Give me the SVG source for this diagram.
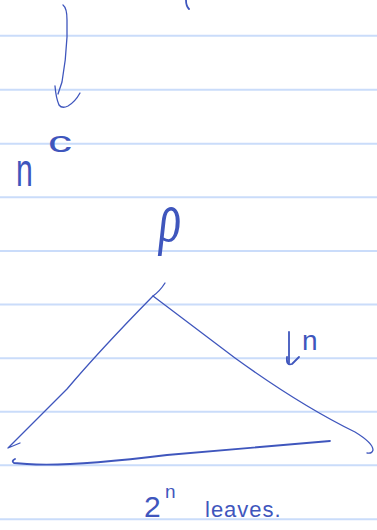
<svg xmlns="http://www.w3.org/2000/svg" width="377" height="530" viewBox="0 0 377 530">
<style>
.rule{stroke:#cadcfa;stroke-width:2;fill:none}
.ink{stroke:#3f56bd;stroke-width:1.8;fill:none;stroke-linecap:round;stroke-linejoin:round}
.thin{stroke-width:1.3}
.txt{fill:#3f56bd;font-family:"Liberation Sans",Arial,sans-serif}
</style>
<rect width="377" height="530" fill="#ffffff"/>
<g id="paper-lines">
<line class="rule" x1="0" y1="35.8" x2="377" y2="35.8"/>
<line class="rule" x1="0" y1="89.8" x2="377" y2="89.8"/>
<line class="rule" x1="0" y1="143.7" x2="377" y2="143.7"/>
<line class="rule" x1="0" y1="197.3" x2="377" y2="197.3"/>
<line class="rule" x1="0" y1="251" x2="377" y2="251"/>
<line class="rule" x1="0" y1="304.5" x2="377" y2="304.5"/>
<line class="rule" x1="0" y1="358.3" x2="377" y2="358.3"/>
<line class="rule" x1="0" y1="411.7" x2="377" y2="411.7"/>
<line class="rule" x1="0" y1="465.3" x2="377" y2="465.3"/>
<line class="rule" x1="0" y1="519.3" x2="377" y2="519.3"/>
</g>
<g id="connectors">
<path class="ink" d="M186,0 Q186,6 189,9"/>
<path class="ink thin" d="M63,5 Q67,8 67,20 L67,37 Q66,60 62,82 L58,94"/>
<path class="ink thin" d="M55,86 Q56,98 59,105 Q62,109 68,106 Q75,102 80,93"/>
<path class="ink" d="M289,332 L289,363"/>
<path class="ink" d="M287,357 Q286,366 292,364 L299,357"/>
</g>
<g id="label-n-left"><text class="txt" transform="translate(16,186) scale(0.72,1.1)" font-size="42">n</text></g>
<g id="label-c"><text class="txt" transform="translate(48,152) scale(1.5,0.9)" font-size="32">c</text></g>
<g id="label-rho"><text class="txt" style="font-family:'Liberation Serif','Times New Roman',serif;font-style:italic" transform="translate(159,241) scale(1,1.55)" font-size="46">ρ</text></g>
<g id="tree">
<path class="ink thin" d="M165,283 Q160,291 153,296 Q100,350 67,389 L8,448 L20,443"/>
<path class="ink thin" d="M153,296 L235,358 Q300,405 355,432 Q373,443 373,450 Q372,454 367,453"/>
<path class="ink" d="M15,459 Q11,461 14,463 L27,464 Q70,467 167,455 L330,441"/>
</g>
<g id="label-depth"><text class="txt" x="302" y="350" font-size="28">n</text></g>
<g id="label-leaves">
<text class="txt" x="144" y="517" font-size="30">2</text>
<text class="txt" x="165" y="498" font-size="19">n</text>
<text class="txt" x="205" y="517" font-size="22" letter-spacing="1">leaves.</text>
</g>
</svg>
